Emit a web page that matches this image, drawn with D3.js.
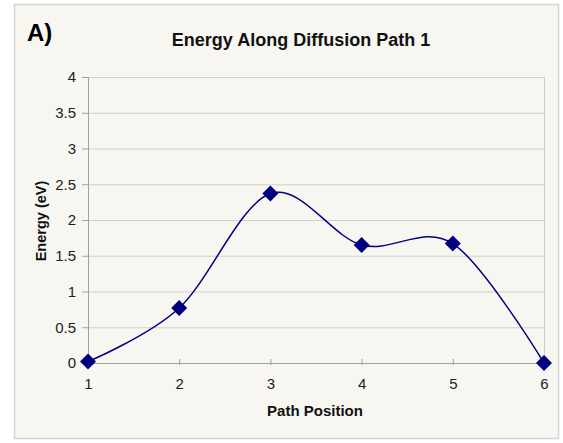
<!DOCTYPE html>
<html>
<head>
<meta charset="utf-8">
<script src="https://cdn.jsdelivr.net/npm/d3@7"></script>
<style>
  body { margin: 0; background: #fff; }
  svg text { font-family: "Liberation Sans", Arial, sans-serif; }
</style>
</head>
<body>
<div id="chart"></div>
<script>
// data
const positions = [1, 2, 3, 4, 5, 6];
const energies = [0.02, 0.77, 2.37, 1.65, 1.67, 0.0];
const yTicks = [0, 0.5, 1, 1.5, 2, 2.5, 3, 3.5, 4];

const W = 563, H = 443;
const margin = { top: 77, right: 19, bottom: 80, left: 88 };
const width = W - margin.left - margin.right,
    height = H - margin.top - margin.bottom;

const svg = d3.select("#chart").append("svg")
    .attr("width", W)
    .attr("height", H);

// chart frame
svg.append("rect")
    .attr("x", 14.5).attr("y", 4.5)
    .attr("width", 544).attr("height", 434)
    .attr("fill", "#f7f6f0")
    .attr("stroke", "#d4d4d4")
    .attr("stroke-width", 1.5);

const g = svg.append("g")
    .attr("transform", "translate(" + margin.left + "," + margin.top + ")");

const x = d3.scaleLinear().domain([1, 6]).range([0, width]);
const y = d3.scaleLinear().domain([0, 4]).range([height, 0]);

// gridlines
g.selectAll(".grid")
    .data(yTicks.slice(1))
    .enter().append("line")
    .attr("x1", 0).attr("x2", width)
    .attr("y1", d => y(d) + 0.5).attr("y2", d => y(d) + 0.5)
    .attr("stroke", "#cfcfcf");

// right border of plot
g.append("line")
    .attr("x1", width + 0.5).attr("x2", width + 0.5)
    .attr("y1", 0).attr("y2", height)
    .attr("stroke", "#cfcfcf");

// y axis
const yAxis = g.append("g")
    .call(d3.axisLeft(y).tickValues(yTicks).tickSize(6).tickPadding(6).tickFormat(d3.format("")));
yAxis.attr("font-size", 15).attr("font-family", "Liberation Sans, Arial, sans-serif");
yAxis.select(".domain").attr("stroke", "#a0a0a0");
yAxis.selectAll(".tick line").attr("stroke", "#a0a0a0");
yAxis.selectAll("text").attr("fill", "#222");

// x axis
const xAxis = g.append("g")
    .attr("transform", "translate(0," + height + ")")
    .call(d3.axisBottom(x).tickValues(positions).tickSize(4).tickPadding(11).tickFormat(d3.format("d")));
xAxis.attr("font-size", 15).attr("font-family", "Liberation Sans, Arial, sans-serif");
xAxis.select(".domain").attr("stroke", "#a0a0a0");
xAxis.selectAll(".tick line").attr("stroke", "#a0a0a0").attr("y1", -4).attr("y2", 2);
xAxis.selectAll("text").attr("fill", "#222");

// smoothed line
const pts = positions.map((p, i) => [p, energies[i]]);
const line = d3.line()
    .curve(d3.curveCardinal.tension(0))
    .x(d => x(d[0]))
    .y(d => y(d[1]));

g.append("path")
    .datum(pts)
    .attr("d", line)
    .attr("fill", "none")
    .attr("stroke", "#000080")
    .attr("stroke-width", 1.5);

// diamond markers
g.selectAll(".pt")
    .data(pts)
    .enter().append("path")
    .attr("transform", d => "translate(" + x(d[0]) + "," + y(d[1]) + ")")
    .attr("d", "M0,-8L8,0L0,8L-8,0Z")
    .attr("fill", "#000080");

// titles
svg.append("text")
    .attr("x", 27).attr("y", 41)
    .attr("font-size", 24).attr("font-weight", "bold").attr("fill", "#000")
    .text("A)");

svg.append("text")
    .attr("x", 301).attr("y", 46)
    .attr("text-anchor", "middle")
    .attr("font-size", 18).attr("font-weight", "bold").attr("fill", "#111")
    .text("Energy Along Diffusion Path 1");

svg.append("text")
    .attr("x", 315).attr("y", 416)
    .attr("text-anchor", "middle")
    .attr("font-size", 15).attr("font-weight", "bold").attr("fill", "#111")
    .text("Path Position");

svg.append("text")
    .attr("transform", "translate(46,221) rotate(-90)")
    .attr("text-anchor", "middle")
    .attr("font-size", 14.5).attr("font-weight", "bold").attr("fill", "#111")
    .text("Energy (eV)");
</script>
</body>
</html>
